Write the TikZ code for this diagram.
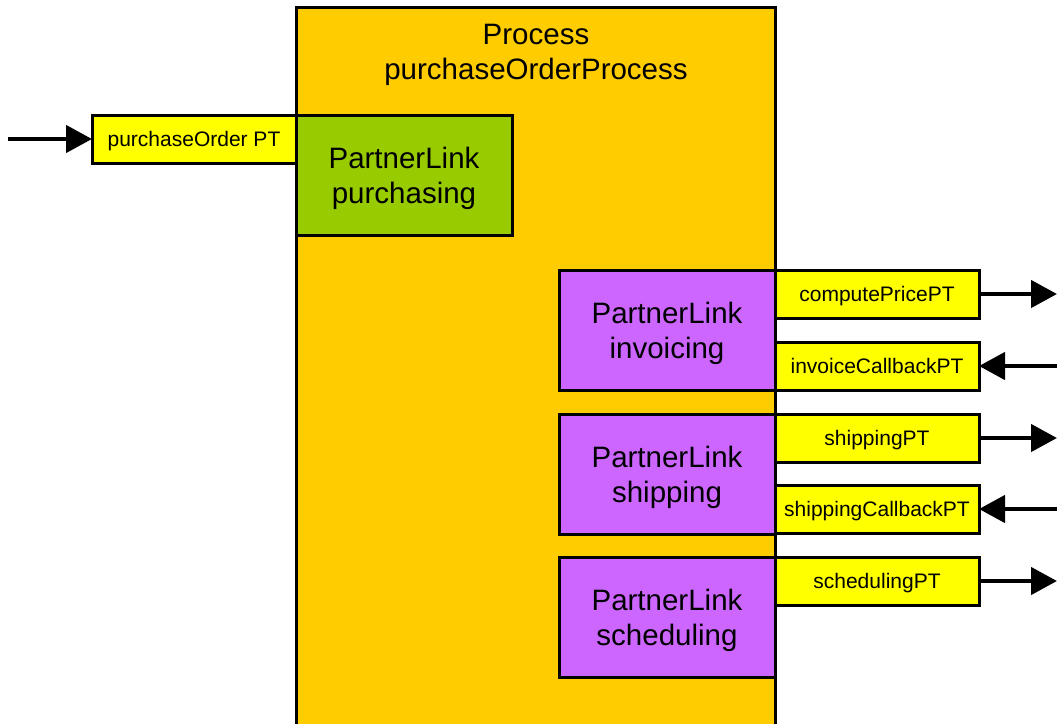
\documentclass[tikz,border=0pt]{standalone}
\usepackage{fontspec}
\setmainfont{Liberation Sans}
\usetikzlibrary{arrows.meta}
\definecolor{procorange}{HTML}{FFCC00}
\definecolor{linkgreen}{HTML}{99CC00}
\definecolor{linkpurple}{HTML}{CC66FF}
\definecolor{ptyellow}{HTML}{FFFF00}
\tikzset{
	box/.style={draw=black, line width=3pt, inner sep=0pt, outer sep=0pt, anchor=north west, text depth=0pt},
	link/.style={box, minimum width=216pt, minimum height=120pt, align=center, font=\fontsize{29.5}{35}\selectfont},
	porttype/.style={box, fill=ptyellow, minimum width=204pt, minimum height=48pt, font=\fontsize{21}{25}\selectfont},
	flow/.style={line width=4.5pt, -{Triangle[length=26pt,width=27pt]}}
}

\begin{document}
\begin{tikzpicture}[x=1pt, y=-1pt]
			%%%%% START %%%%%
			
			\path[use as bounding box, clip] (0, 0) rectangle (1057, 723);
			
			\node[box, fill=procorange, minimum width=479pt, minimum height=740pt] (proc) at (296, 7) {};
			\node[align=center, font=\fontsize{29.5}{35}\selectfont] (proctitle) at (536, 55) {Process\\purchaseOrderProcess};
			
			\node[porttype] (purchPT) at (92, 115) {purchaseOrder PT};
			\node[link, fill=linkgreen] (purch) at (296, 115) {PartnerLink\\purchasing};
			
			\node[link, fill=linkpurple] (invoice) at (559, 270) {PartnerLink\\invoicing};
			\node[porttype] (pricePT) at (775, 270) {computePricePT};
			\node[porttype] (invcbPT) at (775, 342) {invoiceCallbackPT};
			
			\node[link, fill=linkpurple] (ship) at (559, 414) {PartnerLink\\shipping};
			\node[porttype] (shipPT) at (775, 414) {shippingPT};
			\node[porttype] (shipcbPT) at (775, 485) {shippingCallbackPT};
			
			\node[link, fill=linkpurple] (sched) at (559, 557) {PartnerLink\\scheduling};
			\node[porttype] (schedPT) at (775, 557) {schedulingPT};
			
			\coordinate (inPurch) at (8, 139);
			\coordinate (outPrice) at (1057, 294);
			\coordinate (inInv) at (1057, 366);
			\coordinate (outShip) at (1057, 438);
			\coordinate (inShip) at (1057, 509);
			\coordinate (outSched) at (1057, 581);
			
			\draw[flow] (inPurch) -- (purchPT.west);
			\draw[flow] (pricePT.east) -- (outPrice);
			\draw[flow] (inInv) -- (invcbPT.east);
			\draw[flow] (shipPT.east) -- (outShip);
			\draw[flow] (inShip) -- (shipcbPT.east);
			\draw[flow] (schedPT.east) -- (outSched);
			
			%%%%% END %%%%%
		\end{tikzpicture}
\end{document}
